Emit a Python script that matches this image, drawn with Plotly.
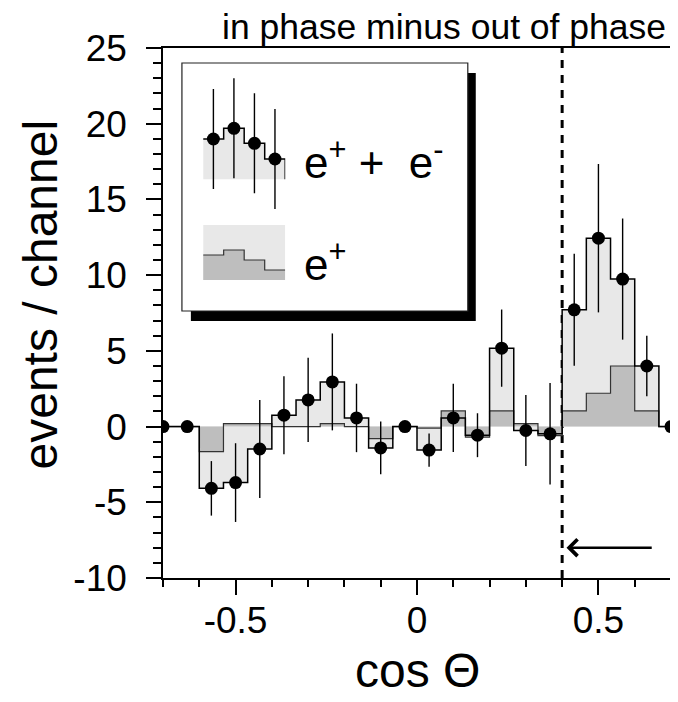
import plotly.graph_objects as go

# ---------------- data ----------------
cos_theta = [-0.7, -0.6333, -0.5667, -0.5, -0.4333, -0.3667, -0.3, -0.2333,
             -0.1667, -0.1, -0.0333, 0.0333, 0.1, 0.1667, 0.2333, 0.3,
             0.3667, 0.4333, 0.5, 0.5667, 0.6333, 0.7]
events_total = [0, 0, -4.08, -3.7, -1.48, 0.75, 1.76, 2.95, 0.57, -1.41, 0,
                -1.55, 0.57, -0.57, 5.18, -0.26, -0.48, 7.71, 12.44, 9.74, 4.0, 0]
events_err = [0, 0, 1.8, 2.6, 3.23, 2.58, 2.78, 3.2, 2.26, 1.74, 0,
              1.1, 2.25, 1.45, 2.55, 2.35, 3.35, 3.7, 4.9, 4.0, 2.0, 0]
events_eplus = [0, 0, -1.65, 0.2, 0.2, 0, 0, 0.2, 0, -0.8, 0,
                -0.1, 1.03, -0.7, 1.03, 0.2, -0.6, 1.03, 2.2, 4.0, 1.03, 0]

x_tick_vals = [-0.5, 0, 0.5]
x_tick_text = ["-0.5", "0", "0.5"]
x_minor_vals = [-0.7, -0.6, -0.4, -0.3, -0.2, -0.1, 0.1, 0.2, 0.3, 0.4, 0.6]
y_tick_vals = [-10, -5, 0, 5, 10, 15, 20, 25]
y_tick_text = ["-10", "-5", "0", "5", "10", "15", "20", "25"]
y_minor_vals = [v for v in range(-10, 26) if v % 5]

cut_value = 0.4

# legend icon samples
leg_bins = [0, 1, 2, 3, 4, 4]
leg_total_steps = [4.03, 5.1, 3.6, 2.03, 2.03, 0]
leg_centers = [0.5, 1.5, 2.5, 3.5]
leg_total_pts = [4.03, 5.1, 3.6, 2.03]
leg_total_err = [5.0, 5.0, 5.0, 5.0]
leg_eplus_bins = [0, 1, 2, 3, 4]
leg_eplus_steps = [2.5, 3.0, 2.0, 1.0, 1.0]
leg_band_x = [0, 4]
leg_band_y = [5.5, 5.5]

LIGHT = "#e8e8e8"
DARK = "#bebebe"
FONT = "Liberation Sans, Arial, Helvetica, sans-serif"

fig = go.Figure()

# light fill of total
fig.add_trace(go.Scatter(x=cos_theta, y=events_total, mode="lines", line_shape="hvh",
                         line=dict(width=0, color=LIGHT), fill="tozeroy", fillcolor=LIGHT,
                         hoverinfo="skip", showlegend=False))
# e+ histogram
fig.add_trace(go.Scatter(x=cos_theta, y=events_eplus, mode="lines", line_shape="hvh",
                         line=dict(width=1.2, color="#333333"), fill="tozeroy", fillcolor=DARK,
                         hoverinfo="skip", showlegend=False))
# total step outline
fig.add_trace(go.Scatter(x=cos_theta, y=events_total, mode="lines", line_shape="hvh",
                         line=dict(width=1.5, color="black"),
                         hoverinfo="skip", showlegend=False))
# data points
fig.add_trace(go.Scatter(x=cos_theta, y=events_total, mode="markers",
                         marker=dict(size=13, color="black"),
                         error_y=dict(type="data", array=events_err, thickness=1.4,
                                      width=0, color="black"),
                         showlegend=False))

# ---- legend icons (inset axes) ----
fig.add_trace(go.Scatter(x=leg_bins, y=leg_total_steps, mode="lines", line_shape="hv",
                         line=dict(width=1.5, color="black"), fill="tozeroy", fillcolor=LIGHT,
                         xaxis="x2", yaxis="y2", hoverinfo="skip", showlegend=False))
fig.add_trace(go.Scatter(x=leg_centers, y=leg_total_pts, mode="markers",
                         marker=dict(size=13, color="black"),
                         error_y=dict(type="data", array=leg_total_err, thickness=1.4,
                                      width=0, color="black"),
                         xaxis="x2", yaxis="y2", hoverinfo="skip", showlegend=False))
fig.add_trace(go.Scatter(x=leg_band_x, y=leg_band_y, mode="lines",
                         line=dict(width=0, color=LIGHT), fill="tozeroy", fillcolor=LIGHT,
                         xaxis="x3", yaxis="y3", hoverinfo="skip", showlegend=False))
fig.add_trace(go.Scatter(x=leg_eplus_bins, y=leg_eplus_steps, mode="lines", line_shape="hv",
                         line=dict(width=1.2, color="#333333"), fill="tozeroy", fillcolor=DARK,
                         xaxis="x3", yaxis="y3", hoverinfo="skip", showlegend=False))

# The page body adds an 8px offset; size the figure so the plot area lands at
# x 163..673, y 48..578 in the 678x702 window.
W, H = 670, 694
L, R, T, B = 155, 5, 40, 124
PX0, PX1, PY0, PY1 = 163, 673, 48, 578


def px(xp):
    return (xp - PX0) / (PX1 - PX0)


def py(yp):
    return (PY1 - yp) / (PY1 - PY0)


axis_common = dict(showgrid=False, zeroline=False, showline=True, linecolor="black",
                   linewidth=1.5, mirror=True, ticks="outside", ticklen=15, tickwidth=1.5,
                   tickcolor="black", tickfont=dict(size=37, color="black", family=FONT))

fig.update_layout(
    width=W, height=H,
    margin=dict(l=L, r=R, t=T, b=B),
    paper_bgcolor="white", plot_bgcolor="rgba(0,0,0,0)",
    font=dict(family=FONT, color="black"),
    xaxis=dict(range=[-0.7, 0.7], tickmode="array", tickvals=x_tick_vals, ticktext=x_tick_text,
               minor=dict(tickmode="array", tickvals=x_minor_vals, ticks="outside", ticklen=7,
                          tickwidth=1.5, tickcolor="black", showgrid=False),
               ticklabelstandoff=-6,
               **axis_common),
    yaxis=dict(range=[-10, 25], tickmode="array", tickvals=y_tick_vals, ticktext=y_tick_text,
               minor=dict(tickmode="array", tickvals=y_minor_vals, ticks="outside", ticklen=8,
                          tickwidth=1.5, tickcolor="black", showgrid=False),
               ticklabelstandoff=12,
               **axis_common),
    xaxis2=dict(domain=[px(203.3), px(285.7)], range=[0, 4], visible=False, anchor="y2",
                fixedrange=True),
    yaxis2=dict(domain=[py(214.3), py(74.3)], range=[-3.5, 10.5], visible=False, anchor="x2",
                fixedrange=True),
    xaxis3=dict(domain=[px(203.3), px(285.7)], range=[0, 4], visible=False, anchor="y3",
                fixedrange=True),
    yaxis3=dict(domain=[py(285), py(220)], range=[-0.5, 6], visible=False, anchor="x3",
                fixedrange=True),
    showlegend=False,
)

# legend box with shadow
fig.add_shape(type="rect", xref="paper", yref="paper", x0=px(191), x1=px(477),
              y0=py(321), y1=py(73), fillcolor="black", line=dict(width=0), layer="below")
fig.add_shape(type="rect", xref="paper", yref="paper", x0=px(182), x1=px(469),
              y0=py(311), y1=py(63), fillcolor="white", line=dict(width=1.2, color="#222"),
              layer="below")
# dashed cut line
fig.add_shape(type="line", xref="x", yref="y", x0=cut_value, x1=cut_value, y0=-10, y1=25,
              line=dict(color="black", width=3, dash="8px,7px"), layer="below")

# arrow
fig.add_annotation(x=0.412, y=-8, ax=0.651, ay=-8, xref="x", yref="y", axref="x", ayref="y",
                   text="", showarrow=True, arrowhead=4, arrowwidth=2.5, arrowsize=1.3,
                   arrowcolor="black", standoff=0)

# texts
fig.add_annotation(x=px(40), y=py(294), xref="paper", yref="paper", text="events / channel",
                   textangle=-90, showarrow=False, xanchor="center", yanchor="middle",
                   font=dict(size=48, family=FONT, color="black"))
fig.add_annotation(x=0.5, y=py(670), xref="paper", yref="paper", text="cos \u0398",
                   showarrow=False, xanchor="center", yanchor="middle",
                   font=dict(size=48, family=FONT, color="black"))
fig.add_annotation(x=px(670), y=py(27), xref="paper", yref="paper",
                   text="in phase minus out of phase",
                   showarrow=False, xanchor="right", yanchor="middle",
                   font=dict(size=35.5, family=FONT, color="black"))
fig.add_annotation(x=px(303), y=py(160), xref="paper", yref="paper",
                   text="e<sup>+</sup> + \u00a0e<sup>-</sup>",
                   showarrow=False, xanchor="left", yanchor="middle",
                   font=dict(size=44, family=FONT, color="black"))
fig.add_annotation(x=px(303), y=py(261), xref="paper", yref="paper",
                   text="e<sup>+</sup>",
                   showarrow=False, xanchor="left", yanchor="middle",
                   font=dict(size=44, family=FONT, color="black"))

fig.write_html("out.html")
